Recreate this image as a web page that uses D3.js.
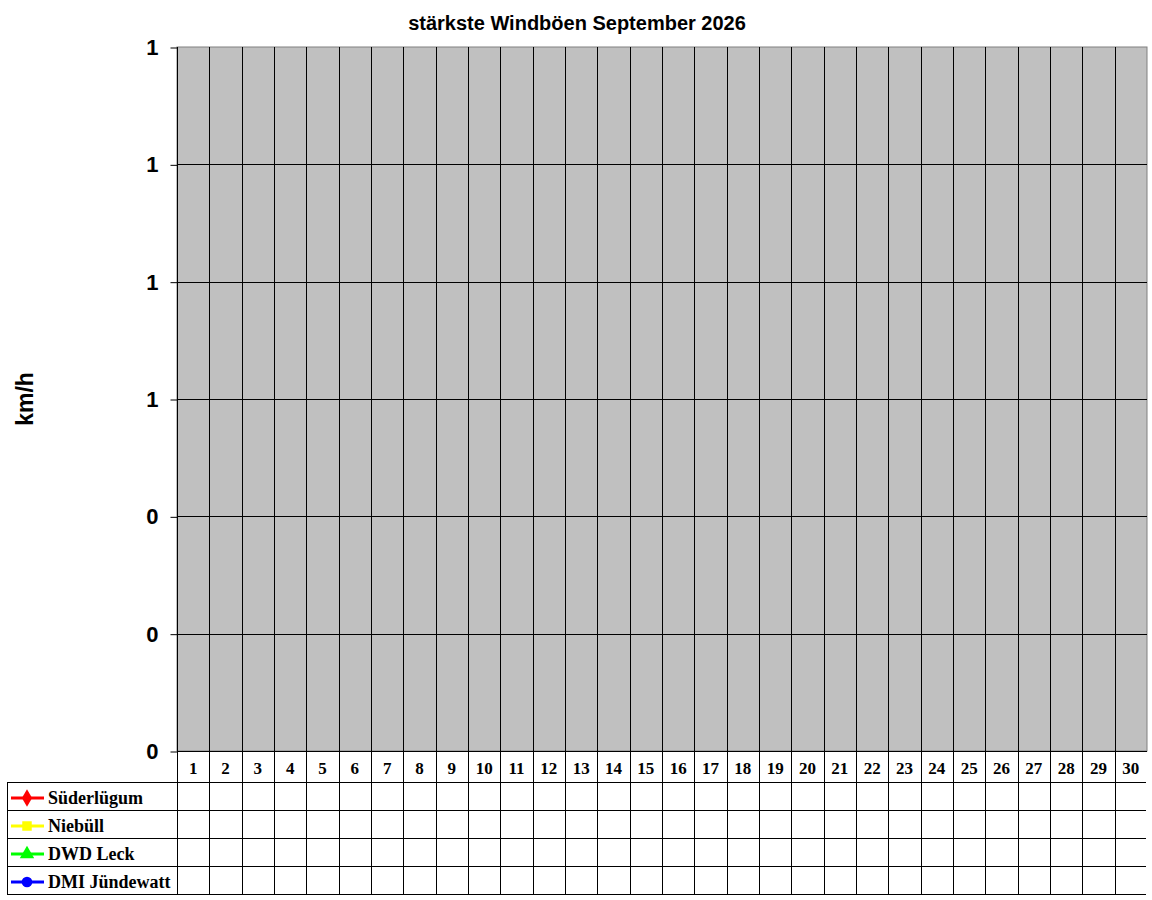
<!DOCTYPE html>
<html>
<head>
<meta charset="utf-8">
<script src="https://cdn.jsdelivr.net/npm/d3@7"></script>
<style>
  body { margin: 0; background: #fff; }
  svg { display: block; }
</style>
</head>
<body>
<div id="chart"></div>
<script>
// chart data (no values recorded yet this month)
var days = d3.range(1, 31);
var seriesNames = ["Süderlügum", "Niebüll", "DWD Leck", "DMI Jündewatt"];
var seriesColors = ["#ff0000", "#ffff00", "#00ff00", "#0000ff"];
var seriesSymbols = [d3.symbolDiamond, d3.symbolSquare, d3.symbolTriangle, d3.symbolCircle];
var suederluegum = days.map(function () { return null; });
var niebuell = days.map(function () { return null; });
var dwdLeck = days.map(function () { return null; });
var dmiJuendewatt = days.map(function () { return null; });
var yTicks = [0, 0.2, 0.4, 0.6, 0.8, 1.0, 1.2];

var allSeries = [suederluegum, niebuell, dwdLeck, dmiJuendewatt];

var svgWidth = 1152;
var svgHeight = 900;

var plot = { left: 177, right: 1147, top: 47, bottom: 751 };
var headerH = 31;
var rowH = 28;
var legendLeft = 7;

var svg = d3.select("#chart")
    .append("svg")
    .attr("width", svgWidth)
    .attr("height", svgHeight);

// scales
var x = d3.scaleBand()
    .domain(days)
    .range([plot.left, plot.right])
    .padding(0);

var y = d3.scaleLinear()
    .domain([0, 1.2])
    .range([plot.bottom, plot.top]);

// title
svg.append("text")
    .attr("x", 577)
    .attr("y", 30)
    .attr("text-anchor", "middle")
    .style("font-family", "Arial, 'Liberation Sans', sans-serif")
    .style("font-weight", "bold")
    .style("font-size", "20px")
    .text("stärkste Windböen September 2026");

// plot background
svg.append("rect")
    .attr("x", plot.left)
    .attr("y", plot.top)
    .attr("width", plot.right - plot.left)
    .attr("height", plot.bottom - plot.top)
    .attr("fill", "#c0c0c0")
    .attr("stroke", "#808080")
    .attr("stroke-width", 1);

// horizontal gridlines
svg.append("g")
    .selectAll("line")
    .data(yTicks.slice(1, -1))
    .enter()
    .append("line")
    .attr("x1", plot.left)
    .attr("x2", plot.right)
    .attr("y1", function (d) { return Math.round(y(d)) + 0.5; })
    .attr("y2", function (d) { return Math.round(y(d)) + 0.5; })
    .attr("stroke", "#000");

// vertical day separators through plot and table
var tableBottom = plot.bottom + headerH + rowH * seriesNames.length;
svg.append("g")
    .selectAll("line")
    .data(days)
    .enter()
    .append("line")
    .attr("x1", function (d) { return Math.round(x(d)) + 0.5; })
    .attr("x2", function (d) { return Math.round(x(d)) + 0.5; })
    .attr("y1", plot.top)
    .attr("y2", tableBottom)
    .attr("stroke", "#000");

// y axis
var yAxis = d3.axisLeft(y)
    .tickValues(yTicks)
    .tickFormat(d3.format(".0f"))
    .tickSize(7)
    .tickPadding(12);

var yAxisG = svg.append("g")
    .attr("transform", "translate(" + (plot.left + 0.5) + ",0.5)")
    .call(yAxis);
yAxisG.select(".domain").attr("stroke", "#000").attr("d", "M0," + plot.top + "V" + plot.bottom);
yAxisG.selectAll(".tick line").attr("stroke", "#000");
yAxisG.selectAll(".tick text")
    .attr("fill", "#000")
    .style("font-family", "Arial, 'Liberation Sans', sans-serif")
    .style("font-weight", "bold")
    .style("font-size", "22px");

// bottom line of plot
svg.append("line")
    .attr("x1", plot.left)
    .attr("x2", plot.right)
    .attr("y1", plot.bottom + 0.5)
    .attr("y2", plot.bottom + 0.5)
    .attr("stroke", "#000");

// y label
svg.append("text")
    .attr("transform", "translate(33,399) rotate(-90)")
    .attr("text-anchor", "middle")
    .style("font-family", "Arial, 'Liberation Sans', sans-serif")
    .style("font-weight", "bold")
    .style("font-size", "23px")
    .text("km/h");

// day labels row
svg.append("g")
    .selectAll("text")
    .data(days)
    .enter()
    .append("text")
    .attr("x", function (d) { return x(d) + x.bandwidth() / 2; })
    .attr("y", plot.bottom + 23)
    .attr("text-anchor", "middle")
    .style("font-family", "'Times New Roman', 'Liberation Serif', serif")
    .style("font-weight", "bold")
    .style("font-size", "17px")
    .text(function (d) { return d; });

// table horizontal lines
var tableTop = plot.bottom + headerH;
var rowLines = d3.range(seriesNames.length + 1).map(function (i) { return tableTop + i * rowH; });
svg.append("g")
    .selectAll("line")
    .data(rowLines)
    .enter()
    .append("line")
    .attr("x1", legendLeft)
    .attr("x2", plot.right - 1)
    .attr("y1", function (d) { return d + 0.5; })
    .attr("y2", function (d) { return d + 0.5; })
    .attr("stroke", "#000");

svg.append("line")
    .attr("x1", legendLeft + 0.5)
    .attr("x2", legendLeft + 0.5)
    .attr("y1", tableTop)
    .attr("y2", tableBottom + 1)
    .attr("stroke", "#000");
svg.append("line")
    .attr("x1", plot.left + 0.5)
    .attr("x2", plot.left + 0.5)
    .attr("y1", plot.bottom)
    .attr("y2", tableBottom + 1)
    .attr("stroke", "#000");

// legend entries
var legend = svg.append("g")
    .selectAll("g")
    .data(seriesNames)
    .enter()
    .append("g")
    .attr("transform", function (d, i) { return "translate(0," + (tableTop + i * rowH + rowH / 2 + 2) + ")"; });

legend.append("line")
    .attr("x1", 11)
    .attr("x2", 44)
    .attr("y1", 0)
    .attr("y2", 0)
    .attr("stroke", function (d, i) { return seriesColors[i]; })
    .attr("stroke-width", 3);

legend.append("path")
    .attr("transform", "translate(27,0)")
    .attr("d", function (d, i) { return d3.symbol().type(seriesSymbols[i]).size(90)(); })
    .attr("fill", function (d, i) { return seriesColors[i]; });

legend.append("text")
    .attr("x", 48)
    .attr("y", 6)
    .style("font-family", "'Times New Roman', 'Liberation Serif', serif")
    .style("font-weight", "bold")
    .style("font-size", "18px")
    .text(function (d) { return d; });

// series lines (drawn from data, empty this month)
var line = d3.line()
    .defined(function (d) { return d != null; })
    .x(function (d, i) { return x(days[i]) + x.bandwidth() / 2; })
    .y(function (d) { return y(d); });

allSeries.forEach(function (s, i) {
    svg.append("path")
        .datum(s)
        .attr("d", line)
        .attr("fill", "none")
        .attr("stroke", seriesColors[i])
        .attr("stroke-width", 2);
});
</script>
</body>
</html>
